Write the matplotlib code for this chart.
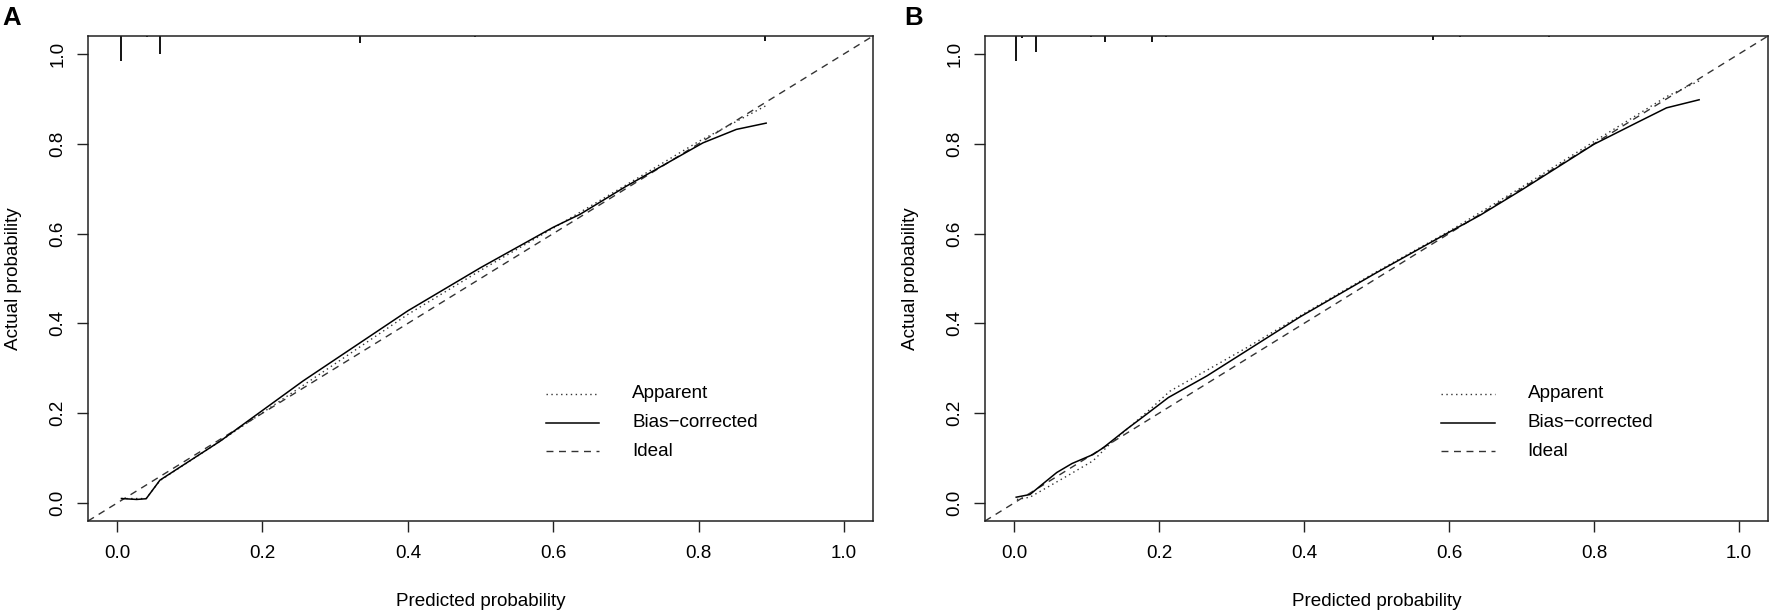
import matplotlib
matplotlib.use('Agg')
import matplotlib.pyplot as plt
import numpy as np

plt.rcParams['font.family'] = ['Liberation Sans', 'DejaVu Sans']

# panel A
a_pred_bias = [0.006, 0.027, 0.040, 0.059, 0.142, 0.256, 0.40, 0.50, 0.60, 0.637, 0.70, 0.806, 0.852, 0.893]
a_act_bias = [0.010, 0.008, 0.0096, 0.051, 0.138, 0.272, 0.428, 0.524, 0.614, 0.643, 0.705, 0.802, 0.832, 0.846]
a_pred_app = [0.006, 0.040, 0.059, 0.142, 0.256, 0.40, 0.50, 0.60, 0.70, 0.80, 0.893]
a_act_app = [0.010, 0.010, 0.050, 0.138, 0.262, 0.420, 0.518, 0.612, 0.708, 0.805, 0.885]
a_rug_x = [0.006, 0.041, 0.059, 0.334, 0.493, 0.892]
a_rug_n = [24.7, 1.4, 18.0, 7.3, 1.0, 4.5]

# panel B
b_pred_bias = [0.003, 0.022, 0.040, 0.059, 0.080, 0.109, 0.123, 0.155, 0.183, 0.213, 0.266, 0.394, 0.50, 0.60, 0.643, 0.70, 0.80, 0.859, 0.90, 0.945]
b_act_bias = [0.013, 0.019, 0.043, 0.068, 0.088, 0.108, 0.123, 0.164, 0.198, 0.235, 0.283, 0.414, 0.513, 0.603, 0.641, 0.697, 0.799, 0.847, 0.880, 0.898]
b_pred_app = [0.004, 0.022, 0.073, 0.109, 0.132, 0.190, 0.215, 0.321, 0.40, 0.50, 0.60, 0.70, 0.80, 0.90, 0.945]
b_act_app = [0.008, 0.013, 0.060, 0.094, 0.131, 0.212, 0.249, 0.346, 0.422, 0.515, 0.605, 0.703, 0.805, 0.905, 0.940]
b_rug_x = [0.003, 0.011, 0.030, 0.106, 0.125, 0.191, 0.210, 0.578, 0.615, 0.738]
b_rug_n = [24.7, 2.3, 15.5, 0.7, 6.3, 5.6, 0.5, 4.3, 0.5, 0.7]

ticks = [0.0, 0.2, 0.4, 0.6, 0.8, 1.0]
labels = ['Apparent', 'Bias\u2212corrected', 'Ideal']
fs = 13.6

fig = plt.figure(figsize=(17.72, 6.13), dpi=100)
axA = fig.add_axes([88/1772, 1 - 521/613, 785/1772, 485/613])
axB = fig.add_axes([985/1772, 1 - 521/613, 783/1772, 485/613])

dashed = dict(color='#333333', lw=1.0, ls=(0, (5, 4)))
dotted = dict(color='#333333', lw=1.0, ls=(0, (1, 2.5)))
solid = dict(color='black', lw=1.1)


def panel(ax, px, py, bx, by, rx, rn, letter, lx):
    ax.set_xlim(-0.04, 1.04)
    ax.set_ylim(-0.04, 1.04)
    ax.plot([-0.04, 1.04], [-0.04, 1.04], **dashed)
    ax.plot(px, py, **dotted)
    ax.plot(bx, by, **solid)
    # rug at top, length in pixels -> data units
    for x, n in zip(rx, rn):
        ax.plot([x, x], [1.04, 1.04 - n / 449], color='black', lw=1.3, solid_capstyle='butt')
    ax.set_xticks(ticks)
    ax.set_yticks(ticks)
    ax.set_xticklabels(['%.1f' % t for t in ticks], fontsize=fs)
    ax.set_yticklabels(['%.1f' % t for t in ticks], fontsize=fs, rotation=90, va='center')
    ax.tick_params(length=8, width=1.0, color='#222222')
    ax.tick_params(axis='x', pad=9)
    ax.tick_params(axis='y', pad=7.5)
    for s in ax.spines.values():
        s.set_color('#222222')
        s.set_linewidth(1.1)
    ax.set_xlabel('Predicted probability', fontsize=fs)
    ax.set_ylabel('Actual probability', fontsize=fs)
    ax.xaxis.set_label_coords(0.5, -0.149)
    ax.yaxis.set_label_coords(-0.0837, 0.5)
    # legend
    for i, (lab, st) in enumerate(zip(labels, [dotted, solid, dashed])):
        yy = 0.262 - i * 0.059
        ax.plot([0.583, 0.651], [yy, yy], transform=ax.transAxes, **st)
        ax.text(0.693, yy, lab, transform=ax.transAxes, fontsize=fs, va='center', ha='left')
    ax.text(lx, 1.0227, letter, transform=ax.transAxes, fontsize=18.5,
            fontweight='bold', ha='left', va='baseline')


panel(axA, a_pred_app, a_act_app, a_pred_bias, a_act_bias, a_rug_x, a_rug_n, 'A', -0.109)
panel(axB, b_pred_app, b_act_app, b_pred_bias, b_act_bias, b_rug_x, b_rug_n, 'B', -0.103)

fig.savefig('out.png', dpi=100)
